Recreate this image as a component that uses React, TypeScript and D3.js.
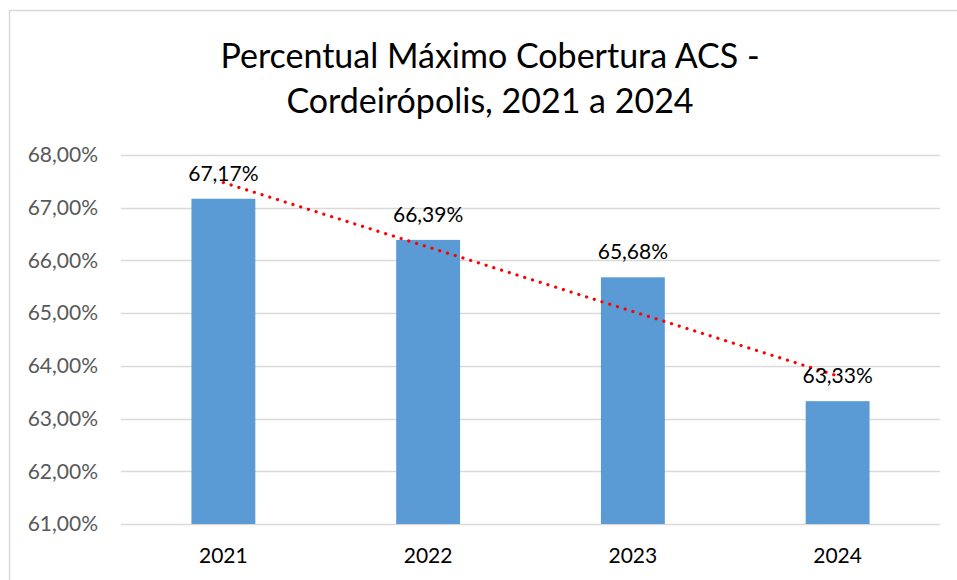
import React, { useEffect, useRef } from 'react';
import * as d3 from 'd3';

const years = ['2021', '2022', '2023', '2024'];
const coverage = [67.17, 66.39, 65.68, 63.33];
const yTicks = [61, 62, 63, 64, 65, 66, 67, 68];
const titleLines = ['Percentual Máximo Cobertura ACS -', 'Cordeirópolis, 2021 a 2024'];

const W = 957;
const H = 580;
const FONT = 'Lato, "Open Sans", sans-serif';

const fmt = (v: number) => v.toFixed(2).replace('.', ',') + '%';

const App: React.FC = () => {
  const svgRef = useRef<SVGSVGElement>(null);

  useEffect(() => {
    if (!svgRef.current) return;
    const svg = d3.select(svgRef.current);
    svg.selectAll('*').remove();

    const margin = { top: 155, right: 17, bottom: 56, left: 121 };
    const innerWidth = W - margin.left - margin.right;
    const innerHeight = H - margin.top - margin.bottom;

    // chart frame
    svg.append('rect')
      .attr('x', 9.5).attr('y', 10.5)
      .attr('width', W + 20).attr('height', H + 20)
      .attr('fill', '#fff')
      .attr('stroke', '#d9d9d9')
      .attr('stroke-width', 1.5);

    // title
    const title = svg.append('text')
      .attr('text-anchor', 'middle')
      .style('font-family', FONT)
      .style('font-size', '34px')
      .attr('fill', '#000');
    titleLines.forEach((t, i) => {
      title.append('tspan')
        .attr('x', 490)
        .attr('y', 68 + i * 45)
        .text(t);
    });

    const g = svg.append('g').attr('transform', `translate(${margin.left},${margin.top})`);

    const x = d3.scaleBand().domain(years).range([0, innerWidth]).paddingInner(0.688).paddingOuter(0.344);
    const y = d3.scaleLinear().domain([61, 68]).range([innerHeight, 0]);

    // gridlines
    g.append('g')
      .selectAll('line')
      .data(yTicks)
      .join('line')
      .attr('x1', 0)
      .attr('x2', innerWidth)
      .attr('y1', d => Math.round(y(d)) + 0.5)
      .attr('y2', d => Math.round(y(d)) + 0.5)
      .attr('stroke', '#d9d9d9')
      .attr('stroke-width', 1.5);

    // y labels
    g.append('g')
      .selectAll('text')
      .data(yTicks)
      .join('text')
      .attr('x', -23)
      .attr('y', d => y(d))
      .attr('dy', '0.35em')
      .attr('text-anchor', 'end')
      .style('font-family', FONT)
      .style('font-size', '21px')
      .attr('fill', '#595959')
      .text(d => fmt(d));

    // bars
    g.append('g')
      .selectAll('rect')
      .data(coverage)
      .join('rect')
      .attr('x', (d, i) => x(years[i])!)
      .attr('width', x.bandwidth())
      .attr('y', d => y(d))
      .attr('height', d => innerHeight - y(d))
      .attr('fill', '#5b9bd5');

    // x labels
    g.append('g')
      .selectAll('text')
      .data(years)
      .join('text')
      .attr('x', d => x(d)! + x.bandwidth() / 2)
      .attr('y', innerHeight + 39)
      .attr('text-anchor', 'middle')
      .style('font-family', FONT)
      .style('font-size', '21px')
      .attr('fill', '#000')
      .text(d => d);

    // linear trendline (least squares over category index)
    const idx = coverage.map((_, i) => i + 1);
    const mx = d3.mean(idx)!;
    const my = d3.mean(coverage)!;
    const slope = d3.sum(idx, (xi, i) => (xi - mx) * (coverage[i] - my)) / d3.sum(idx, xi => (xi - mx) ** 2);
    const intercept = my - slope * mx;
    const trend = years.map((yr, i) => [x(yr)! + x.bandwidth() / 2, y(intercept + slope * (i + 1))] as [number, number]);

    g.append('path')
      .attr('d', d3.line()(trend))
      .attr('fill', 'none')
      .attr('stroke', '#ff0000')
      .attr('stroke-width', 3.2)
      .attr('stroke-linecap', 'round')
      .attr('stroke-dasharray', '0.1 8');

    // value labels
    g.append('g')
      .selectAll('text')
      .data(coverage)
      .join('text')
      .attr('x', (d, i) => x(years[i])! + x.bandwidth() / 2)
      .attr('y', d => y(d) - 18)
      .attr('text-anchor', 'middle')
      .style('font-family', FONT)
      .style('font-size', '21px')
      .attr('fill', '#000')
      .text(d => fmt(d));
  }, []);

  return (
    <div style={{ position: 'fixed', left: 0, top: 0 }}>
      <svg ref={svgRef} width={W} height={H} style={{ display: 'block', background: '#fff' }} />
    </div>
  );
};

export default App;
